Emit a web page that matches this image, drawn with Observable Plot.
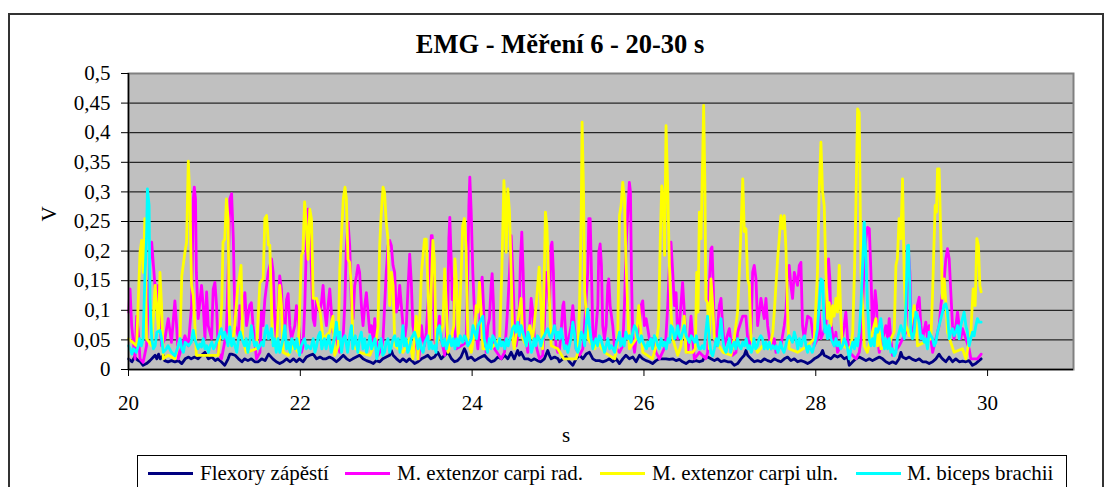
<!DOCTYPE html>
<html><head><meta charset="utf-8">
<script src="https://cdn.jsdelivr.net/npm/d3@7"></script>
<script src="https://cdn.jsdelivr.net/npm/@observablehq/plot@0.6"></script>
<style>
html,body{margin:0;padding:0;background:#fff;width:1112px;height:487px;overflow:hidden;}
body{position:relative;font-family:"Liberation Serif","Times New Roman",serif;color:#000;}
#outer{position:absolute;left:8px;top:13px;width:1096px;height:520px;border:2px solid #333;box-sizing:border-box;}
#title{position:absolute;left:0;top:31px;width:1120px;text-align:center;font-weight:bold;font-size:26.5px;line-height:26.5px;white-space:nowrap;}
#chart{position:absolute;left:0;top:0;}
#legend{position:absolute;left:137px;top:455px;width:930px;height:60px;border:1px solid #000;box-sizing:border-box;background:#fff;}
.lg-line{position:absolute;height:3px;width:45px;}
.lg-text{position:absolute;font-size:21px;line-height:21px;white-space:nowrap;}
</style>
</head><body>
<div id="outer"></div>
<div id="title"></div>
<div id="chart"></div>
<div id="legend"></div>
<script>
const titleText = "EMG - Měření 6 - 20-30 s";
const xLabel = "s";
const yLabel = "V";
const seriesNames = ["Flexory zápěstí", "M. extenzor carpi rad.", "M. extenzor carpi uln.", "M. biceps brachii"];
const seriesColors = ["#000080", "#ff00ff", "#ffff00", "#00ffff"];
const xTicks = [20, 22, 24, 26, 28, 30];
const yTicks = [0, 0.05, 0.1, 0.15, 0.2, 0.25, 0.3, 0.35, 0.4, 0.45, 0.5];

// [time s, value V]
const flexory = [[20.00,.018],[20.04,.013],[20.07,.021],[20.105,.016],[20.14,.013],[20.17,.007],[20.21,.01],[20.25,.015],[20.29,.021],[20.31,.024],[20.33,.018],[20.35,.026],[20.37,.018],[20.405,.024],[20.42,.015],[20.46,.013],[20.50,.015],[20.54,.013],[20.58,.015],[20.62,.01],[20.66,.018],[20.70,.021],[20.73,.018],[20.77,.021],[20.81,.018],[20.85,.024],[20.89,.029],[20.93,.018],[20.97,.021],[21.01,.015],[21.04,.018],[21.08,.013],[21.12,.007],[21.16,.018],[21.18,.026],[21.20,.026],[21.24,.024],[21.28,.018],[21.32,.013],[21.35,.018],[21.39,.015],[21.43,.018],[21.47,.013],[21.51,.013],[21.55,.018],[21.59,.015],[21.63,.026],[21.68,.018],[21.72,.013],[21.76,.01],[21.80,.013],[21.84,.018],[21.88,.013],[21.92,.018],[21.955,.013],[21.99,.018],[22.03,.013],[22.07,.021],[22.11,.024],[22.15,.026],[22.19,.018],[22.23,.021],[22.265,.018],[22.30,.018],[22.34,.021],[22.38,.018],[22.42,.013],[22.46,.018],[22.50,.024],[22.54,.018],[22.575,.015],[22.61,.018],[22.65,.021],[22.69,.024],[22.73,.018],[22.77,.015],[22.81,.013],[22.85,.01],[22.885,.015],[22.925,.013],[22.96,.018],[23.0,.021],[23.04,.024],[23.06,.032],[23.08,.024],[23.12,.018],[23.16,.013],[23.195,.018],[23.235,.013],[23.27,.018],[23.31,.013],[23.33,.01],[23.37,.013],[23.41,.018],[23.45,.021],[23.485,.024],[23.52,.018],[23.56,.021],[23.60,.029],[23.64,.018],[23.68,.024],[23.72,.029],[23.76,.018],[23.795,.013],[23.83,.015],[23.87,.021],[23.91,.035],[23.93,.029],[23.95,.018],[23.99,.021],[24.03,.015],[24.066,.018],[24.105,.021],[24.144,.024],[24.18,.018],[24.22,.013],[24.26,.015],[24.30,.021],[24.34,.018],[24.377,.024],[24.415,.018],[24.454,.029],[24.49,.018],[24.53,.032],[24.55,.024],[24.57,.029],[24.61,.018],[24.65,.018],[24.687,.015],[24.725,.018],[24.76,.015],[24.80,.013],[24.84,.018],[24.88,.032],[24.90,.024],[24.92,.018],[24.96,.021],[25.0,.018],[25.017,.013],[25.056,.018],[25.095,.021],[25.133,.013],[25.172,.007],[25.21,.018],[25.25,.024],[25.29,.018],[25.327,.026],[25.366,.029],[25.405,.018],[25.44,.015],[25.48,.015],[25.52,.013],[25.56,.015],[25.598,.018],[25.637,.013],[25.676,.018],[25.715,.01],[25.753,.018],[25.79,.024],[25.83,.018],[25.87,.021],[25.908,.013],[25.947,.024],[25.986,.018],[26.025,.015],[26.063,.013],[26.10,.01],[26.14,.015],[26.18,.018],[26.22,.018],[26.257,.018],[26.296,.017],[26.335,.018],[26.374,.015],[26.412,.017],[26.45,.013],[26.49,.01],[26.528,.014],[26.567,.013],[26.606,.015],[26.645,.013],[26.684,.015],[26.703,.021],[26.742,.021],[26.78,.018],[26.82,.015],[26.858,.018],[26.897,.013],[26.935,.015],[26.974,.013],[27.013,.013],[27.052,.007],[27.09,.01],[27.13,.018],[27.168,.024],[27.187,.032],[27.207,.024],[27.246,.018],[27.284,.013],[27.323,.015],[27.362,.013],[27.40,.018],[27.44,.015],[27.478,.013],[27.517,.018],[27.556,.015],[27.594,.013],[27.633,.018],[27.672,.021],[27.71,.015],[27.75,.018],[27.788,.013],[27.827,.015],[27.866,.013],[27.905,.01],[27.943,.013],[27.982,.018],[28.02,.021],[28.06,.026],[28.079,.032],[28.098,.024],[28.137,.021],[28.176,.018],[28.215,.024],[28.253,.021],[28.292,.024],[28.331,.018],[28.37,.021],[28.39,.007],[28.43,.013],[28.467,.018],[28.506,.021],[28.545,.018],[28.584,.015],[28.623,.018],[28.66,.015],[28.70,.018],[28.74,.021],[28.778,.018],[28.816,.013],[28.855,.01],[28.894,.013],[28.933,.01],[28.97,.018],[28.99,.029],[29.01,.021],[29.05,.018],[29.088,.021],[29.126,.017],[29.165,.015],[29.204,.018],[29.243,.013],[29.28,.013],[29.32,.01],[29.36,.013],[29.398,.018],[29.436,.026],[29.456,.021],[29.475,.018],[29.514,.013],[29.553,.021],[29.592,.013],[29.63,.018],[29.67,.013],[29.708,.014],[29.747,.013],[29.785,.015],[29.824,.007],[29.863,.01],[29.90,.015],[29.925,.018]];

const carpiRad = [[20.0,.097],[20.018,.136],[20.037,.074],[20.076,.018],[20.095,.09],[20.114,.063],[20.134,.018],[20.17,.012],[20.21,.04],[20.23,.108],[20.25,.187],[20.27,.215],[20.29,.176],[20.308,.142],[20.328,.108],[20.347,.142],[20.366,.074],[20.386,.04],[20.424,.052],[20.463,.086],[20.50,.046],[20.54,.116],[20.56,.074],[20.58,.018],[20.657,.057],[20.696,.04],[20.734,.108],[20.754,.288],[20.766,.308],[20.78,.288],[20.79,.164],[20.812,.086],[20.85,.142],[20.87,.108],[20.89,.052],[20.909,.131],[20.928,.074],[20.967,.052],[20.986,.136],[21.006,.147],[21.025,.108],[21.044,.029],[21.083,.018],[21.14,.063],[21.16,.164],[21.18,.288],[21.20,.297],[21.22,.221],[21.24,.074],[21.277,.057],[21.296,.108],[21.316,.086],[21.355,.13],[21.374,.074],[21.41,.108],[21.43,.113],[21.45,.074],[21.49,.018],[21.53,.029],[21.548,.097],[21.567,.074],[21.587,.118],[21.626,.164],[21.665,.187],[21.684,.164],[21.70,.09],[21.72,.052],[21.74,.097],[21.76,.158],[21.78,.136],[21.80,.074],[21.82,.063],[21.84,.118],[21.858,.128],[21.878,.074],[21.897,.052],[21.936,.074],[21.955,.108],[21.974,.086],[21.994,.052],[22.013,.029],[22.032,.04],[22.052,.108],[22.071,.215],[22.09,.271],[22.11,.249],[22.13,.164],[22.149,.086],[22.168,.074],[22.188,.118],[22.207,.108],[22.226,.097],[22.246,.113],[22.265,.142],[22.285,.097],[22.304,.074],[22.323,.108],[22.343,.136],[22.362,.097],[22.38,.063],[22.42,.052],[22.459,.029],[22.498,.052],[22.517,.108],[22.536,.209],[22.556,.249],[22.575,.209],[22.595,.108],[22.614,.086],[22.633,.142],[22.653,.158],[22.672,.176],[22.69,.164],[22.711,.108],[22.73,.074],[22.75,.108],[22.769,.13],[22.788,.097],[22.808,.063],[22.827,.074],[22.847,.046],[22.866,.086],[22.885,.052],[22.905,.024],[22.944,.035],[22.963,.052],[23.0,.164],[23.021,.209],[23.04,.218],[23.06,.209],[23.079,.176],[23.098,.164],[23.118,.097],[23.137,.108],[23.157,.142],[23.176,.108],[23.195,.074],[23.215,.052],[23.234,.074],[23.253,.136],[23.273,.195],[23.292,.147],[23.31,.074],[23.35,.04],[23.38,.018],[23.41,.074],[23.427,.052],[23.446,.04],[23.466,.063],[23.485,.108],[23.504,.158],[23.524,.226],[23.535,.226],[23.547,.164],[23.563,.052],[23.582,.035],[23.60,.063],[23.62,.09],[23.64,.052],[23.68,.024],[23.698,.052],[23.718,.108],[23.729,.221],[23.74,.257],[23.756,.187],[23.768,.118],[23.78,.153],[23.795,.074],[23.815,.035],[23.873,.04],[23.93,.046],[23.95,.164],[23.962,.277],[23.973,.325],[23.989,.266],[24.008,.164],[24.027,.097],[24.047,.063],[24.066,.035],[24.086,.074],[24.105,.142],[24.117,.156],[24.132,.108],[24.144,.063],[24.163,.029],[24.183,.074],[24.202,.086],[24.221,.142],[24.233,.162],[24.249,.108],[24.26,.035],[24.338,.018],[24.377,.029],[24.396,.063],[24.415,.108],[24.435,.164],[24.454,.226],[24.473,.164],[24.493,.074],[24.512,.04],[24.532,.057],[24.55,.108],[24.563,.187],[24.578,.232],[24.594,.164],[24.61,.063],[24.648,.029],[24.667,.063],[24.687,.12],[24.706,.097],[24.725,.052],[24.783,.018],[24.822,.024],[24.841,.074],[24.86,.164],[24.88,.142],[24.90,.108],[24.919,.209],[24.93,.215],[24.946,.164],[24.958,.08],[24.977,.04],[24.997,.029],[25.017,.035],[25.036,.063],[25.056,.108],[25.067,.114],[25.083,.074],[25.102,.035],[25.153,.074],[25.172,.108],[25.19,.074],[25.21,.035],[25.25,.024],[25.288,.035],[25.308,.074],[25.327,.118],[25.346,.164],[25.358,.255],[25.374,.255],[25.389,.164],[25.405,.063],[25.424,.04],[25.463,.108],[25.474,.198],[25.49,.212],[25.505,.176],[25.52,.074],[25.54,.052],[25.56,.074],[25.579,.142],[25.59,.153],[25.606,.108],[25.637,.074],[25.656,.04],[25.715,.029],[25.753,.04],[25.773,.108],[25.792,.209],[25.812,.266],[25.83,.316],[25.843,.30],[25.854,.164],[25.87,.052],[25.89,.029],[25.908,.052],[25.947,.074],[25.967,.108],[25.986,.116],[26.005,.074],[26.025,.086],[26.063,.052],[26.102,.052],[26.14,.029],[26.18,.018],[26.25,.04],[26.277,.108],[26.296,.176],[26.315,.215],[26.335,.164],[26.354,.108],[26.374,.13],[26.393,.052],[26.412,.074],[26.45,.147],[26.47,.097],[26.49,.052],[26.51,.029],[26.528,.052],[26.548,.09],[26.567,.052],[26.587,.018],[26.645,.029],[26.72,.018],[26.742,.029],[26.76,.142],[26.78,.204],[26.792,.207],[26.808,.136],[26.82,.052],[26.84,.04],[26.877,.108],[26.897,.12],[26.916,.074],[26.935,.04],[26.994,.069],[27.032,.024],[27.071,.029],[27.09,.063],[27.149,.09],[27.187,.09],[27.207,.052],[27.226,.04],[27.246,.063],[27.265,.164],[27.284,.176],[27.304,.153],[27.323,.074],[27.362,.12],[27.40,.086],[27.42,.12],[27.44,.074],[27.478,.035],[27.517,.052],[27.536,.029],[27.594,.04],[27.633,.074],[27.653,.097],[27.672,.164],[27.691,.176],[27.71,.142],[27.73,.12],[27.75,.164],[27.788,.142],[27.808,.176],[27.827,.181],[27.846,.074],[27.866,.052],[27.905,.09],[27.943,.086],[27.982,.04],[28.02,.052],[28.04,.097],[28.06,.052],[28.118,.074],[28.137,.153],[28.149,.187],[28.164,.153],[28.176,.08],[28.215,.04],[28.234,.063],[28.253,.029],[28.292,.04],[28.331,.074],[28.35,.097],[28.37,.052],[28.39,.029],[28.468,.018],[28.506,.029],[28.526,.052],[28.545,.108],[28.565,.187],[28.584,.221],[28.603,.24],[28.623,.238],[28.642,.164],[28.661,.063],[28.68,.108],[28.692,.133],[28.708,.108],[28.72,.052],[28.739,.029],[28.778,.052],[28.816,.074],[28.836,.052],[28.855,.086],[28.874,.052],[28.894,.024],[28.971,.04],[29.049,.063],[29.068,.153],[29.08,.198],[29.095,.164],[29.107,.097],[29.126,.063],[29.165,.097],[29.204,.122],[29.223,.074],[29.243,.052],[29.281,.08],[29.30,.052],[29.32,.074],[29.36,.029],[29.398,.052],[29.436,.074],[29.456,.108],[29.475,.13],[29.495,.153],[29.514,.187],[29.533,.204],[29.553,.187],[29.572,.13],[29.592,.074],[29.61,.052],[29.65,.097],[29.688,.052],[29.708,.069],[29.747,.052],[29.785,.035],[29.805,.018],[29.882,.018],[29.925,.026]];

const carpiUln = [[20.00,.052],[20.095,.040],[20.134,.198],[20.153,.218],[20.172,.164],[20.19,.255],[20.21,.052],[20.27,.040],[20.31,.142],[20.35,.063],[20.366,.164],[20.385,.108],[20.405,.018],[20.46,.024],[20.54,.018],[20.60,.052],[20.62,.158],[20.657,.198],[20.676,.215],[20.696,.352],[20.715,.288],[20.734,.142],[20.754,.125],[20.773,.074],[20.79,.024],[20.89,.024],[21.045,.024],[21.085,.108],[21.10,.215],[21.12,.22],[21.14,.288],[21.16,.254],[21.17,.108],[21.19,.04],[21.23,.063],[21.27,.136],[21.31,.176],[21.33,.052],[21.37,.029],[21.49,.035],[21.53,.147],[21.568,.153],[21.587,.255],[21.607,.26],[21.63,.21],[21.645,.21],[21.676,.046],[21.72,.035],[21.76,.142],[21.78,.108],[21.80,.029],[21.86,.024],[21.92,.04],[21.975,.029],[22.013,.193],[22.03,.198],[22.05,.283],[22.07,.243],[22.09,.186],[22.11,.271],[22.13,.254],[22.15,.12],[22.19,.12],[22.23,.097],[22.265,.052],[22.34,.063],[22.38,.09],[22.40,.024],[22.44,.04],[22.46,.17],[22.50,.288],[22.52,.308],[22.536,.288],[22.555,.186],[22.575,.181],[22.595,.136],[22.614,.04],[22.69,.029],[22.81,.024],[22.885,.052],[22.905,.074],[22.924,.21],[22.943,.266],[22.963,.308],[22.98,.30],[23.0,.249],[23.02,.221],[23.04,.108],[23.06,.164],[23.08,.142],[23.10,.04],[23.195,.029],[23.27,.052],[23.31,.018],[23.35,.09],[23.37,.018],[23.39,.086],[23.41,.164],[23.446,.22],[23.466,.22],[23.485,.142],[23.505,.052],[23.543,.218],[23.56,.187],[23.58,.04],[23.66,.074],[23.68,.17],[23.70,.108],[23.72,.029],[23.787,.074],[23.80,.187],[23.82,.142],[23.84,.052],[23.87,.153],[23.89,.243],[23.91,.255],[23.93,.204],[23.95,.052],[23.99,.029],[24.03,.063],[24.047,.108],[24.066,.097],[24.086,.147],[24.105,.097],[24.125,.035],[24.22,.035],[24.32,.052],[24.345,.164],[24.37,.319],[24.384,.277],[24.396,.198],[24.415,.305],[24.435,.266],[24.454,.164],[24.473,.052],[24.49,.035],[24.53,.08],[24.57,.12],[24.59,.052],[24.63,.04],[24.67,.074],[24.705,.052],[24.745,.108],[24.78,.173],[24.80,.108],[24.82,.035],[24.84,.164],[24.853,.266],[24.87,.243],[24.89,.153],[24.92,.04],[24.997,.035],[25.066,.018],[25.21,.018],[25.23,.029],[25.25,.108],[25.27,.266],[25.28,.418],[25.296,.305],[25.31,.131],[25.35,.052],[25.424,.035],[25.46,.046],[25.54,.029],[25.66,.018],[25.695,.052],[25.715,.26],[25.734,.277],[25.753,.316],[25.773,.288],[25.79,.186],[25.81,.108],[25.83,.035],[25.91,.052],[25.94,.108],[25.955,.08],[25.986,.029],[26.10,.018],[26.14,.04],[26.17,.074],[26.19,.221],[26.207,.31],[26.226,.288],[26.24,.193],[26.257,.412],[26.277,.305],[26.296,.176],[26.315,.097],[26.335,.052],[26.393,.024],[26.43,.04],[26.47,.09],[26.49,.029],[26.567,.029],[26.598,.035],[26.614,.164],[26.63,.097],[26.645,.266],[26.664,.221],[26.684,.361],[26.695,.446],[26.71,.305],[26.72,.118],[26.74,.113],[26.76,.035],[26.78,.153],[26.80,.108],[26.82,.052],[26.92,.029],[27.013,.024],[27.05,.052],[27.09,.097],[27.11,.164],[27.13,.238],[27.15,.322],[27.168,.233],[27.187,.238],[27.207,.153],[27.226,.142],[27.246,.052],[27.323,.029],[27.38,.04],[27.46,.035],[27.50,.063],[27.517,.097],[27.556,.187],[27.575,.221],[27.594,.26],[27.614,.238],[27.633,.26],[27.653,.204],[27.672,.097],[27.69,.035],[27.788,.029],[27.905,.04],[27.982,.052],[28.02,.164],[28.04,.305],[28.06,.384],[28.079,.30],[28.098,.277],[28.118,.164],[28.137,.086],[28.156,.113],[28.176,.074],[28.195,.108],[28.215,.09],[28.234,.12],[28.253,.097],[28.273,.176],[28.292,.086],[28.31,.04],[28.39,.035],[28.41,.04],[28.43,.063],[28.45,.164],[28.467,.277],[28.487,.44],[28.506,.434],[28.526,.164],[28.545,.108],[28.565,.04],[28.60,.029],[28.64,.052],[28.70,.086],[28.72,.04],[28.74,.063],[28.758,.035],[28.855,.04],[28.875,.052],[28.913,.063],[28.933,.176],[28.95,.187],[28.97,.255],[28.99,.221],[29.01,.322],[29.03,.153],[29.05,.074],[29.088,.057],[29.146,.108],[29.165,.08],[29.185,.04],[29.262,.046],[29.34,.052],[29.36,.131],[29.378,.221],[29.39,.277],[29.405,.266],[29.417,.339],[29.436,.339],[29.456,.221],[29.475,.12],[29.495,.153],[29.514,.113],[29.533,.063],[29.61,.029],[29.708,.035],[29.747,.018],[29.805,.063],[29.832,.136],[29.855,.108],[29.875,.221],[29.894,.209],[29.91,.142],[29.925,.131]];

const biceps = [[20.00,.04],[20.02,.035],[20.04,.026],[20.06,.035],[20.09,.029],[20.114,.04],[20.13,.052],[20.15,.04],[20.17,.052],[20.19,.153],[20.21,.221],[20.22,.305],[20.24,.277],[20.25,.119],[20.27,.052],[20.29,.035],[20.31,.04],[20.33,.063],[20.366,.066],[20.386,.052],[20.405,.029],[20.44,.035],[20.46,.04],[20.50,.029],[20.54,.023],[20.58,.04],[20.60,.052],[20.62,.035],[20.64,.029],[20.66,.046],[20.70,.04],[20.73,.046],[20.754,.066],[20.77,.052],[20.81,.035],[20.83,.043],[20.85,.038],[20.87,.052],[20.89,.035],[20.91,.04],[20.93,.029],[20.95,.04],[20.97,.046],[20.99,.035],[21.01,.04],[21.04,.052],[21.08,.069],[21.10,.052],[21.12,.063],[21.14,.052],[21.16,.04],[21.18,.072],[21.20,.04],[21.22,.052],[21.24,.04],[21.26,.029],[21.28,.052],[21.30,.063],[21.32,.052],[21.35,.04],[21.37,.052],[21.39,.029],[21.41,.046],[21.43,.074],[21.45,.052],[21.47,.04],[21.49,.046],[21.51,.035],[21.53,.04],[21.55,.046],[21.57,.04],[21.59,.063],[21.61,.074],[21.63,.052],[21.645,.057],[21.664,.069],[21.684,.040],[21.70,.052],[21.72,.029],[21.74,.052],[21.76,.029],[21.80,.052],[21.82,.074],[21.84,.035],[21.86,.046],[21.88,.029],[21.90,.052],[21.92,.046],[21.94,.035],[21.96,.052],[21.99,.024],[22.01,.040],[22.05,.052],[22.07,.035],[22.09,.040],[22.12,.035],[22.15,.052],[22.17,.029],[22.19,.040],[22.21,.057],[22.23,.063],[22.25,.035],[22.28,.052],[22.30,.035],[22.33,.057],[22.36,.029],[22.38,.040],[22.40,.057],[22.42,.080],[22.44,.052],[22.46,.063],[22.48,.029],[22.50,.052],[22.52,.057],[22.55,.029],[22.57,.052],[22.595,.074],[22.61,.035],[22.64,.057],[22.67,.029],[22.69,.052],[22.71,.063],[22.73,.035],[22.75,.052],[22.77,.029],[22.79,.040],[22.81,.057],[22.83,.035],[22.87,.052],[22.89,.018],[22.91,.035],[22.94,.052],[22.96,.024],[22.98,.029],[23.00,.046],[23.02,.052],[23.04,.029],[23.06,.040],[23.08,.052],[23.10,.057],[23.12,.040],[23.14,.052],[23.16,.029],[23.18,.052],[23.195,.074],[23.21,.040],[23.23,.052],[23.25,.029],[23.27,.035],[23.29,.052],[23.31,.057],[23.33,.063],[23.35,.052],[23.37,.035],[23.39,.052],[23.41,.035],[23.43,.029],[23.45,.046],[23.485,.057],[23.50,.035],[23.52,.046],[23.54,.035],[23.56,.040],[23.58,.029],[23.60,.069],[23.62,.074],[23.64,.052],[23.66,.040],[23.68,.052],[23.70,.035],[23.72,.046],[23.74,.057],[23.76,.040],[23.78,.052],[23.80,.035],[23.82,.052],[23.84,.040],[23.86,.057],[23.89,.046],[23.91,.057],[23.93,.052],[23.95,.040],[23.97,.046],[23.99,.052],[24.01,.074],[24.03,.063],[24.05,.052],[24.07,.074],[24.09,.080],[24.11,.086],[24.125,.09],[24.14,.052],[24.16,.040],[24.18,.029],[24.20,.052],[24.22,.035],[24.24,.057],[24.26,.052],[24.28,.040],[24.30,.035],[24.32,.052],[24.34,.040],[24.36,.046],[24.38,.035],[24.40,.052],[24.42,.040],[24.44,.052],[24.455,.057],[24.47,.069],[24.49,.074],[24.51,.063],[24.53,.080],[24.55,.057],[24.57,.074],[24.59,.063],[24.61,.052],[24.63,.040],[24.65,.063],[24.67,.052],[24.69,.029],[24.71,.040],[24.72,.052],[24.74,.040],[24.76,.057],[24.78,.052],[24.80,.040],[24.82,.052],[24.84,.057],[24.86,.063],[24.88,.069],[24.90,.057],[24.92,.052],[24.94,.063],[24.96,.074],[24.98,.052],[25.00,.063],[25.017,.052],[25.036,.069],[25.056,.052],[25.075,.035],[25.095,.040],[25.114,.029],[25.15,.052],[25.172,.080],[25.19,.063],[25.21,.035],[25.23,.029],[25.25,.040],[25.27,.063],[25.29,.057],[25.31,.040],[25.327,.074],[25.346,.102],[25.365,.074],[25.385,.052],[25.405,.035],[25.424,.046],[25.44,.052],[25.46,.040],[25.48,.057],[25.50,.052],[25.52,.040],[25.54,.029],[25.56,.040],[25.58,.052],[25.60,.035],[25.62,.040],[25.64,.035],[25.66,.029],[25.68,.046],[25.70,.052],[25.715,.063],[25.73,.040],[25.75,.052],[25.77,.040],[25.79,.063],[25.81,.052],[25.83,.057],[25.85,.046],[25.87,.063],[25.89,.074],[25.91,.069],[25.93,.052],[25.95,.046],[25.97,.057],[25.99,.046],[26.01,.040],[26.03,.035],[26.045,.046],[26.06,.040],[26.08,.052],[26.10,.035],[26.12,.057],[26.14,.052],[26.16,.040],[26.18,.035],[26.20,.052],[26.22,.040],[26.24,.046],[26.26,.035],[26.28,.052],[26.30,.046],[26.315,.074],[26.335,.069],[26.355,.052],[26.37,.057],[26.393,.074],[26.41,.057],[26.43,.052],[26.45,.063],[26.47,.074],[26.49,.057],[26.51,.052],[26.53,.046],[26.55,.057],[26.57,.052],[26.59,.046],[26.61,.057],[26.63,.040],[26.645,.035],[26.66,.035],[26.68,.040],[26.70,.035],[26.72,.063],[26.74,.09],[26.76,.052],[26.78,.029],[26.80,.023],[26.82,.035],[26.84,.052],[26.86,.040],[26.877,.057],[26.897,.086],[26.916,.052],[26.935,.035],[26.955,.029],[26.974,.040],[26.994,.052],[27.01,.029],[27.03,.040],[27.05,.046],[27.07,.035],[27.09,.052],[27.11,.040],[27.13,.035],[27.15,.046],[27.17,.040],[27.19,.052],[27.21,.035],[27.23,.040],[27.25,.029],[27.27,.040],[27.28,.052],[27.30,.035],[27.32,.040],[27.34,.052],[27.36,.057],[27.38,.052],[27.40,.035],[27.42,.046],[27.44,.035],[27.46,.046],[27.48,.035],[27.50,.040],[27.52,.035],[27.54,.040],[27.56,.029],[27.58,.040],[27.59,.046],[27.61,.035],[27.63,.029],[27.65,.040],[27.67,.052],[27.69,.057],[27.71,.052],[27.73,.046],[27.75,.063],[27.77,.052],[27.79,.035],[27.81,.052],[27.83,.040],[27.85,.052],[27.87,.057],[27.885,.040],[27.905,.029],[27.92,.040],[27.94,.035],[27.96,.029],[27.98,.040],[28.00,.052],[28.02,.069],[28.04,.108],[28.06,.153],[28.079,.15],[28.09,.108],[28.105,.063],[28.118,.074],[28.137,.052],[28.156,.074],[28.176,.052],[28.195,.046],[28.215,.040],[28.234,.052],[28.253,.040],[28.27,.046],[28.29,.035],[28.31,.040],[28.33,.052],[28.35,.046],[28.37,.035],[28.39,.018],[28.41,.035],[28.43,.046],[28.45,.035],[28.467,.052],[28.487,.040],[28.506,.063],[28.526,.108],[28.545,.176],[28.565,.249],[28.584,.187],[28.603,.108],[28.623,.052],[28.642,.040],[28.66,.052],[28.68,.040],[28.70,.069],[28.72,.063],[28.74,.074],[28.758,.086],[28.778,.057],[28.80,.035],[28.816,.052],[28.836,.035],[28.855,.052],[28.874,.029],[28.894,.035],[28.913,.023],[28.933,.029],[28.95,.052],[28.97,.063],[28.99,.074],[29.01,.063],[29.03,.052],[29.049,.108],[29.068,.209],[29.08,.21],[29.095,.136],[29.107,.063],[29.126,.052],[29.146,.063],[29.165,.097],[29.185,.090],[29.204,.080],[29.223,.052],[29.243,.057],[29.262,.046],[29.28,.052],[29.30,.035],[29.32,.063],[29.34,.057],[29.36,.052],[29.378,.040],[29.398,.046],[29.417,.063],[29.436,.074],[29.456,.086],[29.475,.097],[29.495,.108],[29.514,.111],[29.533,.097],[29.553,.052],[29.572,.063],[29.592,.069],[29.61,.057],[29.63,.063],[29.65,.074],[29.67,.052],[29.688,.074],[29.708,.086],[29.727,.097],[29.747,.074],[29.766,.063],[29.785,.040],[29.805,.052],[29.824,.063],[29.843,.057],[29.863,.074],[29.882,.086],[29.90,.080],[29.925,.080]];

const seriesData = [flexory, carpiRad, carpiUln, biceps];
const rows = (pairs) => pairs.map(([t, v]) => ({t, v}));
const fontFamily = '"Liberation Serif","Times New Roman",serif';

document.getElementById("title").textContent = titleText;

const chart = Plot.plot({
  width: 1112,
  height: 450,
  marginLeft: 128,
  marginRight: 39,
  marginTop: 73,
  marginBottom: 81,
  x: {domain: [20, 31]},
  y: {domain: [0, 0.5]},
  style: {fontFamily, fontSize: "21px", background: "transparent", color: "#000", overflow: "visible"},
  marks: [
    Plot.frame({fill: "#c0c0c0", stroke: null}),
    Plot.ruleY(yTicks.filter(d => d > 0 && d < 0.5), {stroke: "#000", strokeWidth: 1}),
    ...seriesData.map((s, i) => Plot.line(rows(s), {x: "t", y: "v", stroke: seriesColors[i], strokeWidth: 2.8, strokeLinejoin: "round"})),
    Plot.frame({stroke: "#808080", strokeWidth: 2}),
    Plot.ruleX([20], {stroke: "#000", strokeWidth: 1.5}),
    Plot.ruleY([0], {stroke: "#000", strokeWidth: 1.5}),
    Plot.axisY({ticks: yTicks, tickSize: 7, tickPadding: 11, tickFormat: d => String(d).replace(".", ","), label: null, fontSize: 21, fontFamily}),
    Plot.axisX({ticks: xTicks, tickSize: 7, tickPadding: 19, tickFormat: d => String(d), label: null, fontSize: 21, fontFamily}),
    Plot.text([yLabel], {text: d => d, frameAnchor: "left", dx: -79, rotate: -90, fontSize: 21, fontFamily}),
    Plot.text([xLabel], {text: d => d, frameAnchor: "bottom", dx: -35, dy: 72, fontSize: 21, fontFamily})
  ]
});
document.getElementById("chart").appendChild(chart);

const legend = document.getElementById("legend");
const lineLeft = [10, 207, 462, 718];
const textLeft = [62, 259, 514, 769];
seriesNames.forEach((name, i) => {
  const ln = document.createElement("div");
  ln.className = "lg-line";
  ln.style.left = lineLeft[i] + "px";
  ln.style.top = "16px";
  ln.style.background = seriesColors[i];
  legend.appendChild(ln);
  const tx = document.createElement("div");
  tx.className = "lg-text";
  tx.style.left = textLeft[i] + "px";
  tx.style.top = "7px";
  tx.textContent = name;
  legend.appendChild(tx);
});
</script>
</body></html>
